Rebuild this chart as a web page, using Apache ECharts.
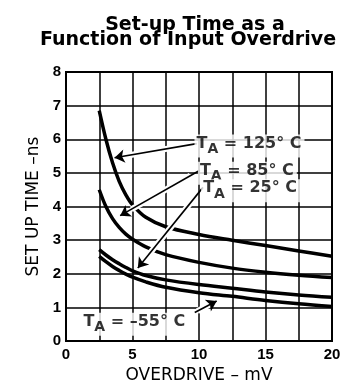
<!DOCTYPE html>
<html>
<head>
<meta charset="utf-8">
<title>Set-up Time as a Function of Input Overdrive</title>
<script src="https://cdn.jsdelivr.net/npm/echarts/dist/echarts.min.js"></script>
<style>
  html, body { margin: 0; padding: 0; background: #fff; }
  #chart { width: 350px; height: 389px; }
</style>
</head>
<body>
<div id="chart"></div>
<script>
// overdrive (mV) points
const overdrive = [2.5, 3, 3.5, 4, 4.5, 5, 6, 7.5, 10, 12.5, 15, 17.5, 20];
// set-up time (ns) for each ambient temperature
const t125 = [6.85, 6.0, 5.3, 4.75, 4.35, 4.05, 3.68, 3.4, 3.17, 3.0, 2.84, 2.68, 2.52];
const t85 = [4.5, 4.0, 3.64, 3.38, 3.18, 3.03, 2.8, 2.57, 2.34, 2.17, 2.05, 1.96, 1.89];
const t25 = [2.72, 2.56, 2.42, 2.3, 2.19, 2.09, 1.95, 1.82, 1.68, 1.57, 1.46, 1.37, 1.3];
const tm55 = [2.52, 2.36, 2.22, 2.1, 1.99, 1.9, 1.76, 1.6, 1.44, 1.33, 1.21, 1.11, 1.03];

// tick labels
const xTickLabels = [0, 5, 10, 15, 20];
const yTickLabels = [0, 1, 2, 3, 4, 5, 6, 7, 8];

// callouts: text, anchor (left-middle of text) and arrow, in data units
const calloutTemps = ['125° C', '85° C', '25° C', '–55° C'];
const calloutX = [9.66, 9.92, 10.16, 1.16];
const calloutY = [5.8, 4.99, 4.47, 0.5];
const arrowFrom = [[9.83, 5.87], [10.07, 5.08], [10.3, 4.57], [9.68, 0.85]];
const arrowTo = [[3.65, 5.45], [4.07, 3.73], [5.4, 2.17], [11.33, 1.19]];

const pair = (ys) => overdrive.map((x, i) => [x, ys[i]]);

const curve = (name, ys) => ({
  name,
  type: 'line',
  data: pair(ys),
  smooth: 0.35,
  showSymbol: false,
  symbol: 'none',
  lineStyle: { color: '#000', width: 3.5 },
  z: 2,
});

// white halo under the arrows so curves break where an arrow crosses
const halo = arrowFrom.map((a, i) => {
  const b = arrowTo[i];
  const at = (t) => [a[0] + (b[0] - a[0]) * t, a[1] + (b[1] - a[1]) * t];
  return { coords: [at(0.12), at(0.86)] };
});

const font = 'DejaVu Sans';
const tickFont = '"Liberation Sans Narrow", "Liberation Sans", Arial, sans-serif';

const chart = echarts.init(document.getElementById('chart'), null, { renderer: 'canvas' });

const option = {
  animation: false,
  backgroundColor: '#fff',
  title: [
    {
      text: 'Set-up Time as a',
      left: 190,
      top: 10.5,
      textAlign: 'center',
      textStyle: { fontFamily: font, fontWeight: 'bold', fontSize: 19, color: '#000', lineHeight: 19 },
    },
    {
      text: 'Function of Input Overdrive',
      left: 183,
      top: 26,
      textAlign: 'center',
      textStyle: { fontFamily: font, fontWeight: 'bold', fontSize: 19, color: '#000', lineHeight: 19 },
    },
  ],
  grid: {
    left: 66, right: 18, top: 72, bottom: 47,
    show: true, borderColor: '#000', borderWidth: 2,
  },
  xAxis: {
    type: 'value',
    min: 0, max: 20, interval: 2.5,
    name: 'OVERDRIVE – mV',
    nameLocation: 'middle',
    nameGap: 21,
    nameTextStyle: { fontFamily: font, fontSize: 17, color: '#000' },
    axisLine: { show: false },
    axisTick: { show: false },
    axisLabel: {
      margin: 6,
      fontFamily: tickFont, fontWeight: 'bold', fontSize: 15, color: '#000',
      formatter: (v) => (xTickLabels.includes(v) ? String(v) : ''),
    },
    splitLine: { show: true, lineStyle: { color: '#000', width: 1.5 } },
  },
  yAxis: {
    type: 'value',
    min: yTickLabels[0], max: yTickLabels[yTickLabels.length - 1], interval: 1,
    name: 'SET UP TIME –ns',
    nameLocation: 'middle',
    nameGap: 22,
    nameTextStyle: { fontFamily: font, fontSize: 17, color: '#000' },
    axisLine: { show: false },
    axisTick: { show: false },
    axisLabel: { margin: 5, fontFamily: tickFont, fontWeight: 'bold', fontSize: 15, color: '#000' },
    splitLine: { show: true, lineStyle: { color: '#000', width: 1.5 } },
  },
  series: [
    curve('TA = 125° C', t125),
    curve('TA = 85° C', t85),
    curve('TA = 25° C', t25),
    curve('TA = –55° C', tm55),
    {
      type: 'lines',
      coordinateSystem: 'cartesian2d',
      silent: true,
      data: halo,
      lineStyle: { color: '#fff', width: 6, opacity: 1 },
      z: 3,
    },
    {
      type: 'lines',
      coordinateSystem: 'cartesian2d',
      silent: true,
      symbol: ['none', 'arrow'],
      symbolSize: [7, 10],
      data: arrowFrom.map((a, i) => ({ coords: [a, arrowTo[i]] })),
      lineStyle: { color: '#000', width: 1.6, opacity: 1 },
      z: 4,
    },
    {
      type: 'scatter',
      silent: true,
      symbolSize: 0,
      data: calloutTemps.map((t, i) => ({ value: [calloutX[i], calloutY[i]], temp: t })),
      label: {
        show: true,
        position: 'right',
        distance: 0,
        backgroundColor: '#fff',
        padding: [1, 3, 1, 2],
        formatter: (p) => '{t|T}{s|A}{t| = ' + calloutTemps[p.dataIndex] + '}',
        rich: {
          t: { fontFamily: font, fontWeight: 'bold', fontSize: 16, color: '#000', verticalAlign: 'bottom', padding: [0, 0, 5, 0] },
          s: { fontFamily: font, fontWeight: 'bold', fontSize: 14, color: '#000', verticalAlign: 'bottom' },
        },
      },
      z: 5,
    },
  ],
};

chart.setOption(option);
</script>
</body>
</html>
